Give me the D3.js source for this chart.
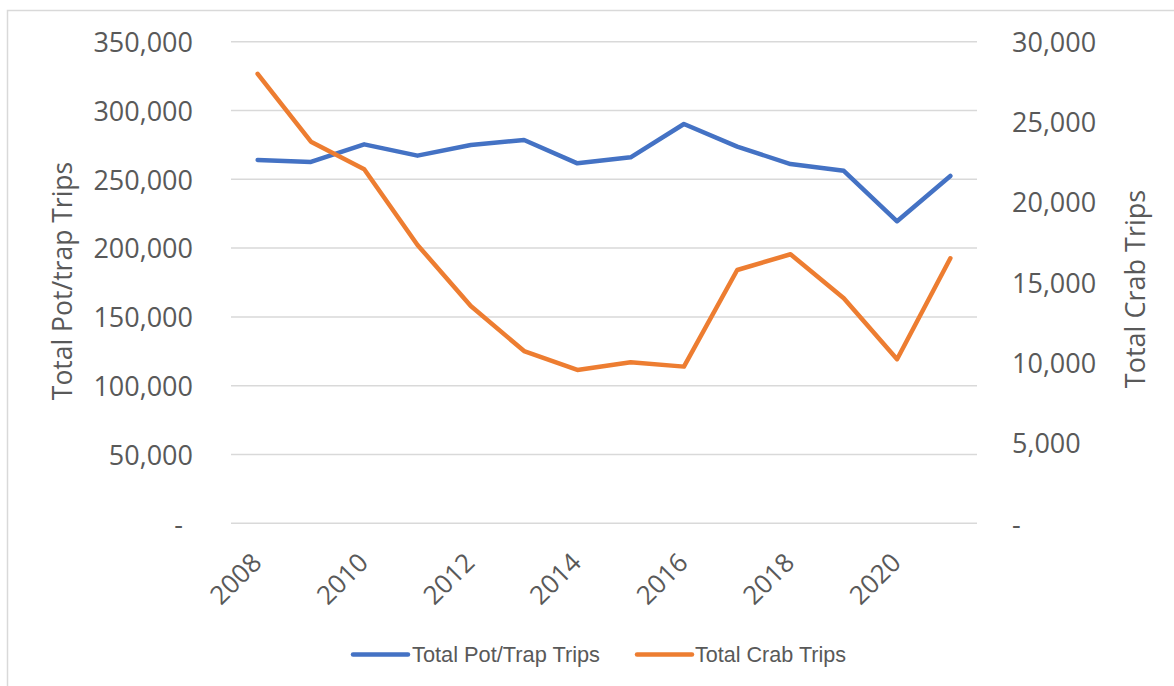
<!DOCTYPE html>
<html>
<head>
<meta charset="utf-8">
<script src="https://cdn.jsdelivr.net/npm/d3@7"></script>
<style>
  html, body { margin: 0; padding: 0; background: #ffffff; }
  svg { display: block; }
</style>
</head>
<body>
<svg id="chart" width="1174" height="686"></svg>
<script>
// Annual trip counts, 2008–2021
const years = [2008, 2009, 2010, 2011, 2012, 2013, 2014, 2015, 2016, 2017, 2018, 2019, 2020, 2021];
const potTrapTrips = [264000, 262600, 275400, 267200, 274900, 278600, 261600, 266000, 290200, 273700, 261100, 256200, 219500, 252400];
const crabTrips = [28000, 23770, 22050, 17340, 13540, 10730, 9550, 10030, 9760, 15780, 16760, 14020, 10220, 16510];

const leftTicks = [0, 50000, 100000, 150000, 200000, 250000, 300000, 350000];
const rightTicks = [0, 5000, 10000, 15000, 20000, 25000, 30000];
const labeledYears = [2008, 2010, 2012, 2014, 2016, 2018, 2020];

const seriesNames = ["Total Pot/Trap Trips", "Total Crab Trips"];
const seriesColors = ["#4472C4", "#ED7D31"];
const leftTitle = "Total Pot/trap Trips";
const rightTitle = "Total Crab Trips";

const svg = d3.select("#chart");
const plot = { left: 231, right: 977, top: 41.7, bottom: 523.3 };

const x = d3.scalePoint().domain(years).range([plot.left, plot.right]).padding(0.5);
const yL = d3.scaleLinear().domain([0, 350000]).range([plot.bottom, plot.top]);
const yR = d3.scaleLinear().domain([0, 30000]).range([plot.bottom, plot.top]);

const numFmt = d3.format(",");
const tickFmt = v => v === 0 ? "-" : numFmt(v);

// outer frame
svg.append("rect")
  .attr("x", 7.5).attr("y", 10.5)
  .attr("width", 1180).attr("height", 690)
  .attr("fill", "none").attr("stroke", "#d9d9d9").attr("stroke-width", 1.5);

const tickFont = "'Open Sans', 'Noto Sans', sans-serif";
const textColor = "#595959";

// gridlines
svg.append("g").selectAll("line").data(leftTicks).join("line")
  .attr("x1", plot.left).attr("x2", plot.right)
  .attr("y1", d => yL(d)).attr("y2", d => yL(d))
  .attr("stroke", "#d9d9d9").attr("stroke-width", 1.5);

// left axis
const gL = svg.append("g").attr("transform", `translate(${plot.left},0)`)
  .call(d3.axisLeft(yL).tickValues(leftTicks).tickFormat(tickFmt).tickSize(0).tickPadding(38));
gL.select(".domain").remove();
gL.selectAll("text")
  .attr("font-family", tickFont).attr("font-size", 27).attr("fill", textColor)
  .attr("dy", "0.36em")
  .attr("dx", d => d === 0 ? -10 : 0);

// right axis
const gR = svg.append("g").attr("transform", `translate(${plot.right},0)`)
  .call(d3.axisRight(yR).tickValues(rightTicks).tickFormat(tickFmt).tickSize(0).tickPadding(35));
gR.select(".domain").remove();
gR.selectAll("text")
  .attr("font-family", tickFont).attr("font-size", 27).attr("fill", textColor)
  .attr("dy", "0.36em");

// bottom axis: every other year, rotated
const gB = svg.append("g").attr("transform", `translate(0,${plot.bottom})`)
  .call(d3.axisBottom(x).tickValues(labeledYears).tickSize(0).tickPadding(0));
gB.select(".domain").remove();
gB.selectAll("text")
  .attr("font-family", tickFont).attr("font-size", 26).attr("fill", textColor)
  .attr("text-anchor", "end")
  .attr("dy", 0)
  .attr("transform", "translate(5,41) rotate(-45)");

// axis titles
svg.append("text")
  .attr("transform", `translate(72,281) rotate(-90)`)
  .attr("text-anchor", "middle")
  .attr("font-family", tickFont).attr("font-size", 26.5).attr("fill", textColor)
  .text(leftTitle);

svg.append("text")
  .attr("transform", `translate(1145,289) rotate(-90)`)
  .attr("text-anchor", "middle")
  .attr("font-family", tickFont).attr("font-size", 27).attr("fill", textColor)
  .text(rightTitle);

// series lines
const lineL = d3.line().x((d, i) => x(years[i])).y(d => yL(d));
const lineR = d3.line().x((d, i) => x(years[i])).y(d => yR(d));

svg.append("path").datum(potTrapTrips)
  .attr("d", lineL).attr("fill", "none")
  .attr("stroke", seriesColors[0]).attr("stroke-width", 4.5)
  .attr("stroke-linejoin", "round").attr("stroke-linecap", "round");

svg.append("path").datum(crabTrips)
  .attr("d", lineR).attr("fill", "none")
  .attr("stroke", seriesColors[1]).attr("stroke-width", 4.5)
  .attr("stroke-linejoin", "round").attr("stroke-linecap", "round");

// legend
const legendFont = "'Liberation Sans Narrow', 'Liberation Sans', sans-serif";
const legendItems = [
  { name: seriesNames[0], color: seriesColors[0], x0: 353, x1: 408, tx: 412, tl: 188 },
  { name: seriesNames[1], color: seriesColors[1], x0: 637, x1: 692, tx: 695, tl: 151 }
];
const lg = svg.append("g");
legendItems.forEach(it => {
  lg.append("line")
    .attr("x1", it.x0).attr("x2", it.x1).attr("y1", 654.5).attr("y2", 654.5)
    .attr("stroke", it.color).attr("stroke-width", 4.5).attr("stroke-linecap", "round");
  lg.append("text")
    .attr("x", it.tx).attr("y", 662)
    .attr("font-family", legendFont).attr("font-size", 22).attr("fill", textColor)
    .attr("textLength", it.tl).attr("lengthAdjust", "spacingAndGlyphs")
    .text(it.name);
});
</script>
</body>
</html>
